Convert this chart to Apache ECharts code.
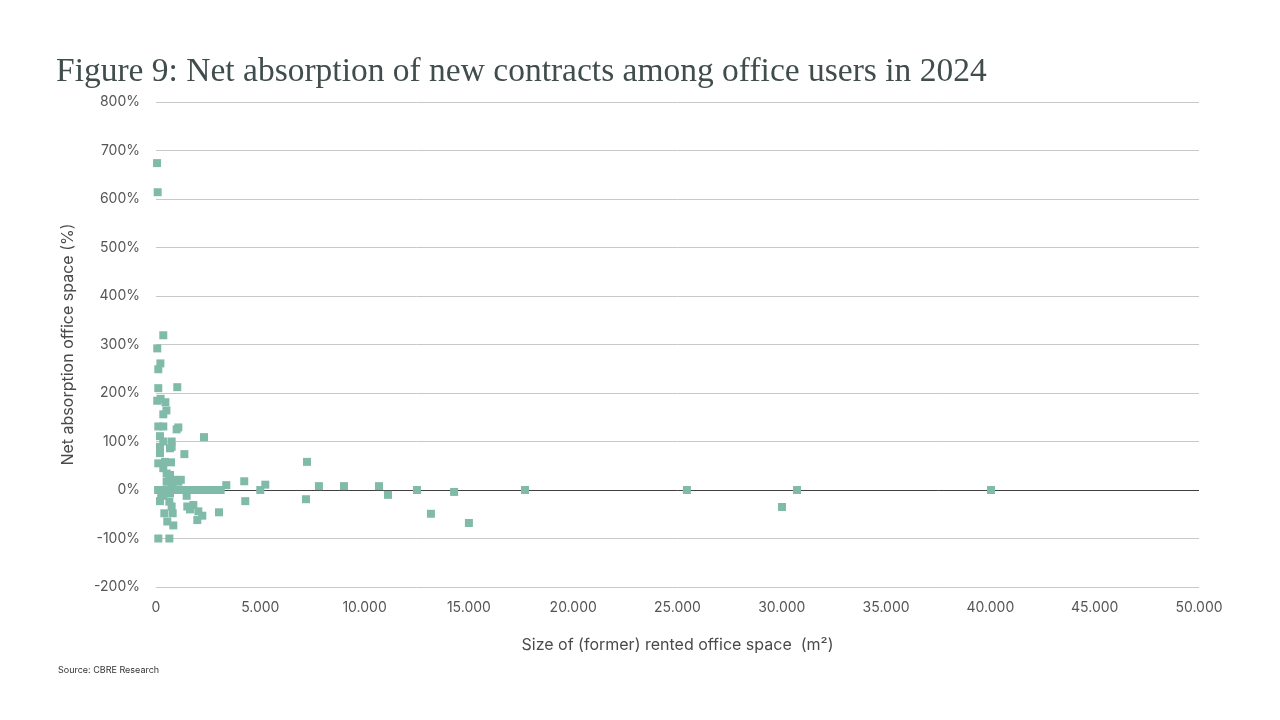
<!DOCTYPE html>
<html>
<head>
<meta charset="utf-8">
<title>Figure 9</title>
<script src="https://cdn.jsdelivr.net/npm/echarts@6/dist/echarts.min.js"></script>
<style>
	html, body { margin: 0; padding: 0; background: #fff; }
	#chart { width: 1280px; height: 720px; }
</style>
</head>
<body>
<div id="chart"></div>
<script>
// size of (former) rented office space in m2
var sizes = [
	50, 80, 350, 60, 210, 110, 110, 1020, 60, 220, 450, 500, 350, 110, 350, 1070, 990, 2300, 190, 350,
	750, 750, 670, 190, 190, 1360, 110, 430, 720, 350, 510, 670, 640, 900, 1190, 510, 1070, 750, 4230, 3370,
	5240, 5000, 4280,
	100, 300, 500, 700, 900, 1100, 1300, 1500, 1850, 2100, 2350, 2600, 2850, 3100,
	350, 670, 1470, 250, 190, 640, 750, 1500, 1790, 1630, 2030, 2220, 400, 800, 3020, 1980, 540, 830, 110, 640,
	7240, 7190, 7810, 9010, 10690, 11120, 12510, 13180, 14290, 15000, 17690, 25450, 30010, 30730, 40030
];
// net absorption office space in %
var absorption = [
	674, 614, 319, 292, 261, 249, 210, 212, 184, 188, 181, 164, 156, 131, 131, 129, 125, 109, 111, 100,
	100, 89, 86, 89, 76, 74, 55, 58, 57, 45, 34, 31, 21, 21, 21, 17, 17, 8, 18, 10,
	11, 0, -23,
	0, 0, 0, 0, 0, 0, 0, 0, 0, 0, 0, 0, 0, 0,
	-12, -7, -12, -10, -23, -24, -34, -34, -31, -40, -44, -53, -48, -48, -46, -62, -65, -73, -100, -100,
	58, -19, 8, 8, 8, -10, 0, -49, -4, -68, 0, 0, -35, 0, 0
];

var points = sizes.map(function (s, i) {
	return [s, absorption[i]];
});

var chart = document.getElementById('chart');
var myChart = echarts.init(chart);

var labelFont = 'Inter, Roboto, sans-serif';

var option = {
	animation: false,
	title: [{
		text: 'Figure 9: Net absorption of new contracts among office users in 2024',
		left: 51,
		top: 50,
		textStyle: {
			fontFamily: '"Liberation Serif", "DejaVu Serif", serif',
			fontWeight: 'normal',
			fontSize: 33.5,
			color: '#414d4d'
		}
	}, {
		text: 'Source: CBRE Research',
		left: 53,
		top: 661,
		textStyle: {
			fontFamily: labelFont,
			fontWeight: 'normal',
			fontSize: 9,
			color: '#333'
		}
	}],
	grid: {
		left: 156,
		right: 81,
		top: 102,
		bottom: 133
	},
	xAxis: {
		type: 'value',
		min: 0,
		max: 50000,
		interval: 5000,
		name: 'Size of (former) rented office space  (m²)',
		nameLocation: 'middle',
		nameGap: 50,
		nameTextStyle: {
			fontFamily: labelFont,
			fontSize: 16,
			color: '#4a4a4a'
		},
		axisLine: { show: false },
		axisTick: { show: false },
		splitLine: { show: false },
		axisLabel: {
			margin: 14,
			fontFamily: labelFont,
			fontSize: 14,
			color: '#555',
			formatter: function (v) {
				return v.toString().replace(/\B(?=(\d{3})+(?!\d))/g, '.');
			}
		}
	},
	yAxis: {
		type: 'value',
		min: -200,
		max: 800,
		interval: 100,
		name: 'Net absorption office space (%)',
		nameLocation: 'middle',
		nameGap: 80,
		nameTextStyle: {
			fontFamily: labelFont,
			fontSize: 16,
			color: '#4a4a4a'
		},
		axisLine: { show: false },
		axisTick: { show: false },
		splitLine: {
			show: true,
			lineStyle: { color: '#c8c8c8', width: 1 }
		},
		axisLabel: {
			margin: 16,
			fontFamily: labelFont,
			fontSize: 14,
			color: '#555',
			formatter: '{value}%'
		}
	},
	series: [{
		name: 'Net absorption',
		type: 'scatter',
		symbol: 'rect',
		symbolSize: 8,
		itemStyle: { color: '#80bba9', opacity: 1 },
		data: points,
		markLine: {
			silent: true,
			symbol: 'none',
			label: { show: false },
			lineStyle: { color: '#404040', width: 1, type: 'solid' },
			data: [{ yAxis: 0 }],
			z: 1
		},
		z: 3
	}]
};

myChart.setOption(option);
</script>
</body>
</html>
